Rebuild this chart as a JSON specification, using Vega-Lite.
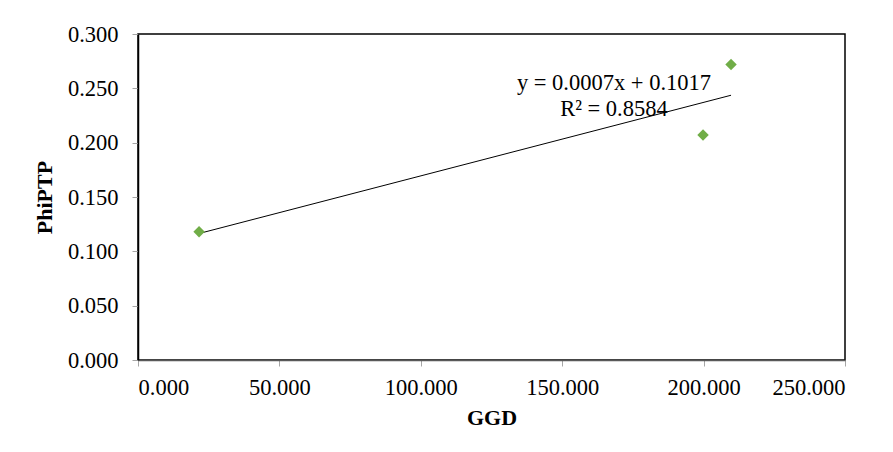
{
  "$schema": "https://vega.github.io/schema/vega-lite/v6.json",
  "width": 707,
  "height": 326,
  "autosize": {"type": "none"},
  "padding": {"left": 138, "top": 34, "right": 48, "bottom": 92},
  "background": "#ffffff",
  "config": {
    "view": {"stroke": "#000000", "strokeWidth": 1.5},
    "font": "Liberation Serif",
    "axis": {
      "grid": false,
      "labelFont": "Liberation Serif",
      "labelFontSize": 22.5,
      "labelColor": "#000000",
      "titleFont": "Liberation Serif",
      "titleFontSize": 22,
      "titleFontWeight": "bold",
      "titleColor": "#000000",
      "tickColor": "#a6a6a6",
      "tickSize": 6,
      "domainColor": "#595959",
      "domainWidth": 1.5
    }
  },
  "datasets": {
    "pts": [
      {"GGD": 21.6, "PhiPTP": 0.118},
      {"GGD": 199.8, "PhiPTP": 0.207},
      {"GGD": 209.7, "PhiPTP": 0.272}
    ],
    "eq": [
      {"GGD": 168.3, "PhiPTP": 0.2549, "label": "y = 0.0007x + 0.1017\nR² = 0.8584"}
    ]
  },
  "layer": [
    {
      "data": {"name": "pts"},
      "transform": [{"regression": "PhiPTP", "on": "GGD"}],
      "mark": {"type": "line", "color": "#000000", "strokeWidth": 1},
      "encoding": {
        "x": {"field": "GGD", "type": "quantitative"},
        "y": {"field": "PhiPTP", "type": "quantitative"}
      }
    },
    {
      "data": {"name": "pts"},
      "mark": {"type": "point", "shape": "diamond", "filled": true, "color": "#70AD47", "size": 130, "opacity": 1},
      "encoding": {
        "x": {
          "field": "GGD", "type": "quantitative",
          "scale": {"domain": [0, 250], "nice": false, "zero": true},
          "axis": {"values": [0, 50, 100, 150, 200, 250], "format": ".3f", "labelPadding": 10, "titlePadding": 9, "title": "GGD"}
        },
        "y": {
          "field": "PhiPTP", "type": "quantitative",
          "scale": {"domain": [0, 0.3], "nice": false},
          "axis": {"values": [0, 0.05, 0.1, 0.15, 0.2, 0.25, 0.3], "format": ".3f", "labelPadding": 14, "titlePadding": 11, "title": "PhiPTP", "domainColor": "#000000"}
        }
      }
    },
    {
      "data": {"name": "eq"},
      "mark": {"type": "text", "font": "Liberation Serif", "fontSize": 22.5, "color": "#000000", "lineBreak": "\n", "align": "center", "baseline": "middle", "lineHeight": 26},
      "encoding": {
        "x": {"field": "GGD", "type": "quantitative"},
        "y": {"field": "PhiPTP", "type": "quantitative"},
        "text": {"field": "label"}
      }
    }
  ]
}
